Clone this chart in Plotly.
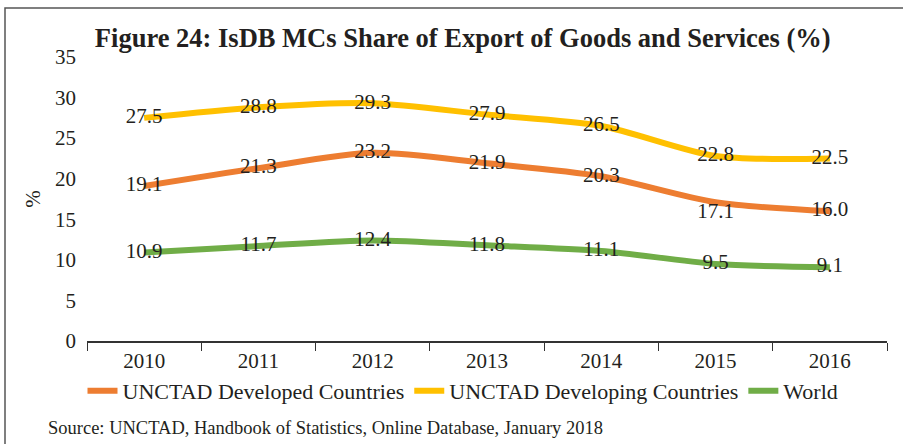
import plotly.graph_objects as go

years = ["2010", "2011", "2012", "2013", "2014", "2015", "2016"]
developed = [19.1, 21.3, 23.2, 21.9, 20.3, 17.1, 16.0]
developing = [27.5, 28.8, 29.3, 27.9, 26.5, 22.8, 22.5]
world = [10.9, 11.7, 12.4, 11.8, 11.1, 9.5, 9.1]

series = [
    ("UNCTAD Developed Countries", developed, "#ED7D31"),
    ("UNCTAD Developing Countries", developing, "#FFC000"),
    ("World", world, "#70AD47"),
]

FONT = "Liberation Serif"
INK = "#231F20"

fig = go.Figure()
for name, vals, color in series:
    pos = ["middle center"] * len(vals)
    if name == "UNCTAD Developed Countries":
        pos[5] = "bottom center"
    fig.add_trace(
        go.Scatter(
            x=years,
            y=vals,
            name=name,
            mode="lines+text",
            line=dict(color=color, width=6, shape="spline", smoothing=0.8),
            text=[f"{v:.1f}" for v in vals],
            textposition=pos,
            textfont=dict(family=FONT, size=21, color=INK),
            cliponaxis=False,
        )
    )

fig.update_layout(
    width=903,
    height=444,
    margin=dict(l=87, r=16, t=57, b=103),
    paper_bgcolor="white",
    plot_bgcolor="white",
    font=dict(family=FONT, size=21, color=INK),
    title=dict(
        text="<b>Figure 24: IsDB MCs Share of Export of Goods and Services (%)</b>",
        x=0.5125,
        xanchor="center",
        y=1 - 38 / 444,
        yanchor="middle",
        font=dict(family=FONT, size=26.5, color=INK),
    ),
    xaxis=dict(
        range=[-0.5, 6.5],
        showgrid=False,
        showline=True,
        linecolor="#333",
        linewidth=1.5,
        ticks="outside",
        tickson="boundaries",
        ticklen=8,
        tickcolor="#333",
        tickfont=dict(family=FONT, size=21, color=INK),
    ),
    yaxis=dict(
        range=[0, 35],
        dtick=5,
        showgrid=False,
        showline=False,
        zeroline=False,
        ticks="",
        ticklabelstandoff=10,
        tickfont=dict(family=FONT, size=21, color=INK),
        title=dict(text="%", font=dict(family=FONT, size=21, color=INK), standoff=8),
    ),
    showlegend=True,
    legend=dict(
        orientation="h",
        x=0.47,
        xanchor="center",
        y=-0.176,
        yanchor="middle",
        font=dict(family=FONT, size=22, color=INK),
        itemwidth=30,
        tracegroupgap=0,
    ),
    annotations=[
        dict(
            text="Source: UNCTAD, Handbook of Statistics, Online Database, January 2018",
            xref="paper",
            yref="paper",
            x=-0.051,
            y=-0.306,
            xanchor="left",
            yanchor="middle",
            showarrow=False,
            font=dict(family=FONT, size=18.5, color=INK),
        )
    ],
    shapes=[
        dict(
            type="rect",
            xref="paper",
            yref="paper",
            x0=-0.1025,
            x1=1.05,
            y0=-0.4,
            y1=1.1725,
            line=dict(color="#555", width=1.5),
            fillcolor="rgba(0,0,0,0)",
            layer="below",
        )
    ],
)

fig.write_html(
    "out.html",
    config={"displayModeBar": False},
    post_script="document.body.style.margin='0';",
)
